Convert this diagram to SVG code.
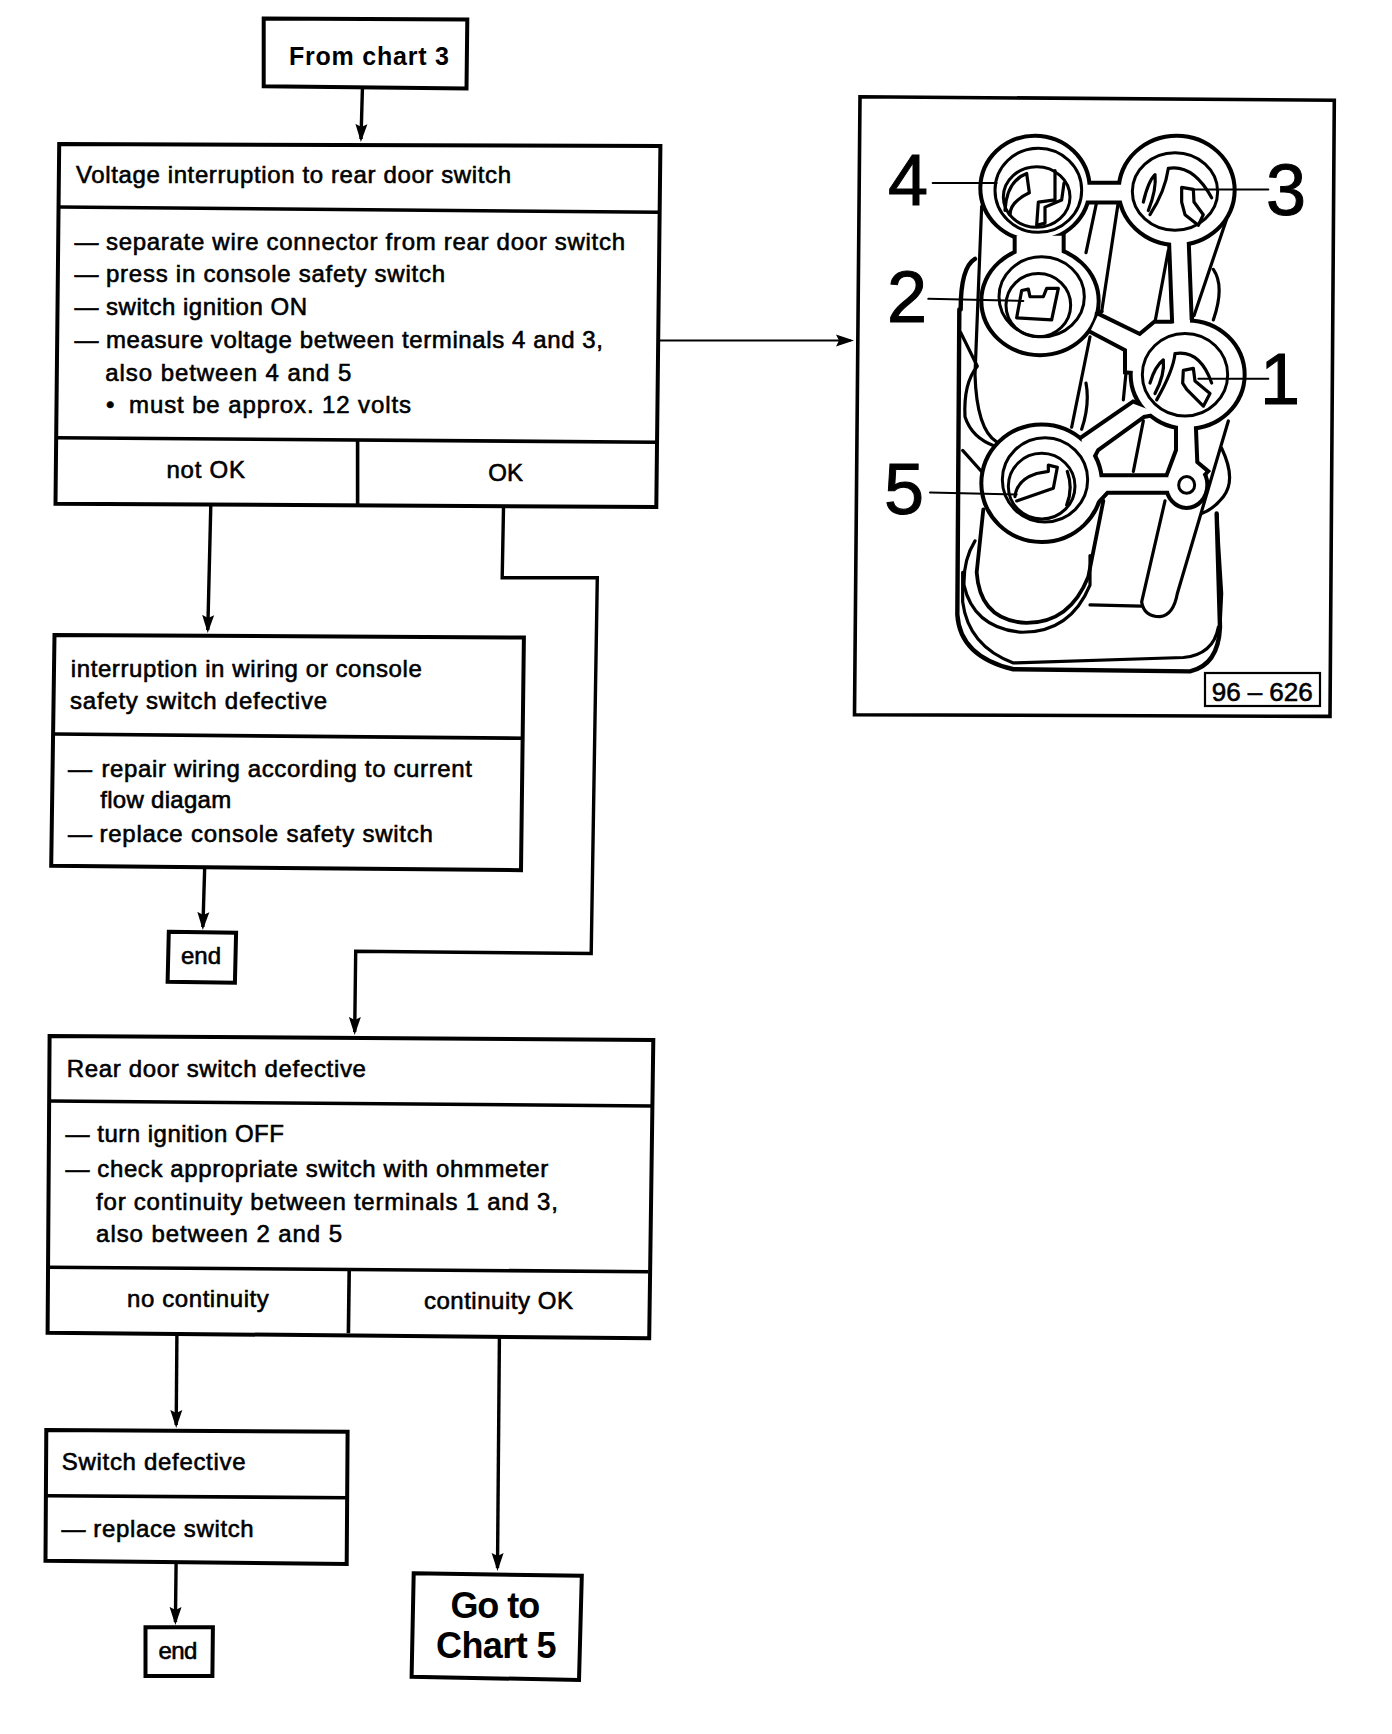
<svg xmlns="http://www.w3.org/2000/svg" xmlns:xlink="http://www.w3.org/1999/xlink" width="1392" height="1734" viewBox="0 0 1392 1734">
<style>
.box{fill:#fff;stroke:#000;stroke-width:4;stroke-linejoin:miter}
.div{fill:none;stroke:#000;stroke-width:3.6}
.t{font-family:"Liberation Sans",Arial,sans-serif;font-size:24px;fill:#000;stroke:#000;stroke-width:.6}
.b{font-family:"Liberation Sans",Arial,sans-serif;font-size:25px;font-weight:bold;fill:#000}
.g{font-family:"Liberation Sans",Arial,sans-serif;font-size:36px;font-weight:bold;fill:#000}
.d{font-family:"Liberation Sans",Arial,sans-serif;font-size:72px;fill:#000;stroke:#000;stroke-width:1}
.c{fill:none;stroke:#000;stroke-width:3.4;stroke-linejoin:miter}
.c2{fill:none;stroke:#000;stroke-width:2}
.il path,.il ellipse,#plate *{vector-effect:non-scaling-stroke}
.ln{fill:none;stroke:#000;stroke-width:3.2;stroke-linejoin:round;stroke-linecap:round}
.ln2{fill:none;stroke:#000;stroke-width:2;stroke-linecap:round;stroke-linejoin:round}
.pb{fill:#fff;stroke:#000;stroke-width:8}
.pw{fill:#fff;stroke:none}
.ring{fill:none;stroke:#000;stroke-width:3}
</style>
<defs>
<marker id="a" markerUnits="userSpaceOnUse" markerWidth="20" markerHeight="20" refX="15" refY="7" orient="auto"><path d="M0,1 L18,7 L0,13 L3,7 Z" fill="#000"/></marker>
<g id="plate">
<ellipse cx="585" cy="257" rx="158" ry="120"/>
<ellipse cx="1010" cy="262" rx="168" ry="125"/>
<ellipse cx="600" cy="525" rx="170" ry="124"/>
<ellipse cx="1043" cy="700" rx="165" ry="124"/>
<ellipse cx="605" cy="958" rx="175" ry="135"/>
<ellipse cx="1040" cy="962" rx="56" ry="50"/>
<polygon points="730,249 860,249 860,286 730,286"/>
<polygon points="530,370 665,370 665,425 530,425"/>
<polygon points="993,380 1040,380 1050,590 1003,590"/>
<polygon points="773,560 900,609 945,579 995,579 1050,570 1050,700 861,690 861,639 753,594"/>
<polygon points="880,769 725,854 720,950 770,876 910,796 950,790"/>
<polygon points="1014,810 1061,810 1066,910 1096,930 1060,960 984,944 1014,880"/>
<polygon points="760,944 1000,944 1000,976 800,976 760,1010"/>
</g>
</defs>
<rect width="1392" height="1734" fill="#fff"/>

<g id="connectors">
<path class="c" d="M362.4,89 L361,139" marker-end="url(#a)"/>
<path class="c" d="M210.8,505 L207.8,630" marker-end="url(#a)"/>
<path class="c" d="M503.5,508 L502.2,577.8 L597.3,577.8 L591.2,953.5 L355.7,951.3 L354.7,1032" marker-end="url(#a)"/>
<path class="c2" d="M659,340.5 L851,340.5" marker-end="url(#a)"/>
<path class="c" d="M204.7,867 L202.9,927" marker-end="url(#a)"/>
<path class="c" d="M176.9,1335 L176.2,1425" marker-end="url(#a)"/>
<path class="c" d="M499.4,1338 L497.5,1568" marker-end="url(#a)"/>
<path class="c" d="M176.1,1563 L175.4,1622" marker-end="url(#a)"/>
</g>

<g id="node-from-chart-3">
<polygon class="box" points="263.7,18.6 467.3,19.6 466.5,88.6 263.7,86.2"/>
<text class="b" x="289" y="65" textLength="160">From chart 3</text>
</g>

<g id="node-voltage-interruption">
<polygon class="box" points="59.2,144 660.4,146 656.3,507 55.5,503.7"/>
<path class="div" d="M59.2,207 L660.4,212.3"/>
<path class="div" d="M56.3,437.8 L657,442.2"/>
<path class="div" d="M357.6,441 L357.6,505.4"/>
<text class="t" x="76" y="183" textLength="435">Voltage interruption to rear door switch</text>
<text class="t" y="250"><tspan x="74.5" textLength="22">—</tspan> <tspan x="106" textLength="519">separate wire connector from rear door switch</tspan></text>
<text class="t" y="281.5"><tspan x="74.5" textLength="22">—</tspan> <tspan x="106" textLength="339">press in console safety switch</tspan></text>
<text class="t" y="315"><tspan x="74.5" textLength="22">—</tspan> <tspan x="106" textLength="201">switch ignition ON</tspan></text>
<text class="t" y="348"><tspan x="74.5" textLength="22">—</tspan> <tspan x="106" textLength="497">measure voltage between terminals 4 and 3,</tspan></text>
<text class="t" x="105.3" y="381" textLength="246">also between 4 and 5</text>
<text class="t" y="413"><tspan x="106" textLength="12">•</tspan> <tspan x="129" textLength="282">must be approx. 12 volts</tspan></text>
<text class="t" x="166.5" y="478.4" textLength="78.4">not OK</text>
<text class="t" x="488.2" y="480.7" textLength="34.7">OK</text>
</g>

<g id="node-interruption">
<polygon class="box" points="54.5,635 523.9,637.6 521,870.2 51.2,865.8"/>
<path class="div" d="M54.5,734 L523.9,738.3"/>
<text class="t" x="70.8" y="676.5" textLength="351">interruption in wiring or console</text>
<text class="t" x="70" y="709" textLength="257">safety switch defective</text>
<text class="t" y="776.5"><tspan x="68" textLength="22">—</tspan> <tspan x="101.4" textLength="370.6">repair wiring according to current</tspan></text>
<text class="t" x="100.2" y="808" textLength="131">flow diagam</text>
<text class="t" y="842"><tspan x="68" textLength="22">—</tspan> <tspan x="99.4" textLength="333.5">replace console safety switch</tspan></text>
</g>

<g id="node-end-1">
<polygon class="box" points="168.8,931.7 236.1,932.7 234.9,982.8 167.6,981.7"/>
<text class="t" x="181" y="964" textLength="40">end</text>
</g>

<g id="node-rear-door">
<polygon class="box" points="49.6,1036 653.3,1040 649.2,1338.3 47.6,1332.7"/>
<path class="div" d="M50.4,1101 L652.4,1106"/>
<path class="div" d="M48.4,1267.3 L648.4,1271.7"/>
<path class="div" d="M349.2,1270 L348.4,1333.3"/>
<text class="t" x="66.7" y="1077.3" textLength="299.2">Rear door switch defective</text>
<text class="t" y="1142.3"><tspan x="65.5" textLength="21">—</tspan> <tspan x="97.3" textLength="186.6">turn ignition OFF</tspan></text>
<text class="t" y="1176.7"><tspan x="65.5" textLength="21">—</tspan> <tspan x="97.3" textLength="451">check appropriate switch with ohmmeter</tspan></text>
<text class="t" x="96.1" y="1210" textLength="461.7">for continuity between terminals 1 and 3,</text>
<text class="t" x="96.1" y="1241.7" textLength="246">also between 2 and 5</text>
<text class="t" x="127.1" y="1307" textLength="141.7">no continuity</text>
<text class="t" x="423.9" y="1309.3" textLength="149">continuity OK</text>
</g>

<g id="node-switch-defective">
<polygon class="box" points="46.3,1430 347.6,1431.7 346.7,1564 45.5,1560.7"/>
<path class="div" d="M47.1,1495.7 L347.6,1497.7"/>
<text class="t" x="61.8" y="1470" textLength="183.7">Switch defective</text>
<text class="t" y="1536.7"><tspan x="61.4" textLength="22">—</tspan> <tspan x="93.3" textLength="160.4">replace switch</tspan></text>
</g>

<g id="node-end-2">
<polygon class="box" points="145.5,1627.3 212.9,1627.3 212.4,1676 145.5,1676"/>
<text class="t" x="158.6" y="1659" textLength="38.7">end</text>
</g>

<g id="node-go-to-chart-5">
<polygon class="box" points="413.7,1573.3 581.8,1575.7 579,1680 411.6,1676.7"/>
<text class="g" x="450.4" y="1617.5" textLength="89.8">Go to</text>
<text class="g" x="436.1" y="1657.5" textLength="120.4">Chart 5</text>
</g>

<g id="illustration">
<polygon class="box" points="860,96.8 1334.3,100.2 1330,716.4 854.5,714.7" style="stroke-width:3.6"/>
<g class="il" transform="translate(840,80) scale(.33333,.4209)">
<path class="ln" style="stroke-width:4.4" d="M362,545 Q362,445 405,425 M358,545 L352,1270 Q360,1370 520,1400 L1050,1405 Q1135,1390 1140,1300 L1130,1030"/>
<path class="ln" d="M368,1170 L368,1240 Q385,1345 520,1385 L1030,1372 Q1120,1365 1135,1300"/>
<path class="ln" d="M362,600 L412,680 Q370,720 375,800 Q395,850 465,870 M368,880 L430,935"/>
<path class="ln" d="M425,300 L405,700 Q410,830 470,860"/>
<path class="ln" d="M405,1095 Q370,1140 372,1200 Q400,1300 540,1312 Q690,1315 750,1200 L750,1130"/>
<path class="ln" style="stroke-width:3.8" d="M430,1020 L410,1170 Q420,1285 560,1290 Q690,1290 745,1180 L790,1000"/>
<path class="ln" d="M750,1247 L903,1250 M975,1000 L905,1240 Q912,1275 960,1275 Q1000,1272 1012,1220 L1165,810"/>
<path class="ln" d="M1145,875 Q1190,950 1150,990 Q1120,1020 1085,1030 M1130,1030 L1145,1220 L1140,1300"/>
<path class="ln" d="M1160,330 L1062,560 M1120,450 Q1155,490 1120,570"/>
<path class="ln" d="M770,290 L738,410 M835,290 L785,550 M985,405 L945,575 M990,420 L996,575 M750,610 L695,825 M738,720 Q750,770 725,830 M865,640 L850,760 M910,810 L880,930"/>
<use xlink:href="#plate" href="#plate" class="pb"/>
<use xlink:href="#plate" href="#plate" class="pw"/>
<path class="ln" style="stroke-width:4" d="M785,550 L770,555"/>
<ellipse class="ring" cx="1040" cy="962" rx="24" ry="20"/>
<ellipse class="ring" cx="595" cy="262" rx="130" ry="100"/>
<ellipse class="ring" cx="590" cy="278" rx="100" ry="72"/>
<path class="ln" d="M495,310 Q500,240 560,222 L568,268 Q510,290 510,320 M645,215 L645,285 L595,290 L590,345 L615,340 L615,302 L665,285 L672,245"/>
<ellipse class="ring" cx="1005" cy="265" rx="128" ry="92"/>
<path class="ln" d="M910,290 Q925,240 945,225 Q950,260 925,310 M985,210 Q975,265 930,320 M985,210 Q1060,200 1115,280 M1025,255 L1060,260 L1062,290 L1090,320 L1075,345 L1035,320 L1025,290 Z"/>
<ellipse class="ring" cx="605" cy="515" rx="128" ry="95"/>
<ellipse class="ring" cx="595" cy="535" rx="97" ry="75"/>
<path class="ln" d="M545,500 L565,497 L570,515 L610,515 L620,495 L655,495 L635,570 L530,565 Z"/>
<ellipse class="ring" cx="1035" cy="700" rx="128" ry="98"/>
<path class="ln" d="M930,720 Q945,680 970,665 Q975,700 945,745 M1005,650 Q1000,690 950,760 M1005,650 Q1080,640 1115,720 M1030,690 L1060,685 L1065,715 L1110,745 L1090,775 L1040,735 L1028,720 Z"/>
<ellipse class="ring" cx="615" cy="950" rx="128" ry="100"/>
<ellipse class="ring" cx="605" cy="965" rx="100" ry="78"/>
<path class="ln" d="M525,990 Q530,950 590,935 L625,930 L625,915 L652,920 L640,970 L530,1000 M682,930 Q700,970 680,1010"/>
<path class="ln2" d="M278,245 L470,245 M1055,260 L1285,260 M265,520 L550,525 M1075,710 L1285,710 M270,980 L530,985"/>
</g>
<text class="d" x="888" y="205">4</text>
<text class="d" x="1266" y="215">3</text>
<text class="d" x="887" y="322">2</text>
<text class="d" x="1260" y="404">1</text>
<text class="d" x="884" y="514">5</text>
<rect x="1205" y="673" width="115" height="33" fill="#fff" stroke="#000" stroke-width="2.2"/>
<text class="t" style="font-size:26px" x="1211.7" y="701" textLength="101">96 – 626</text>
</g>
</svg>
